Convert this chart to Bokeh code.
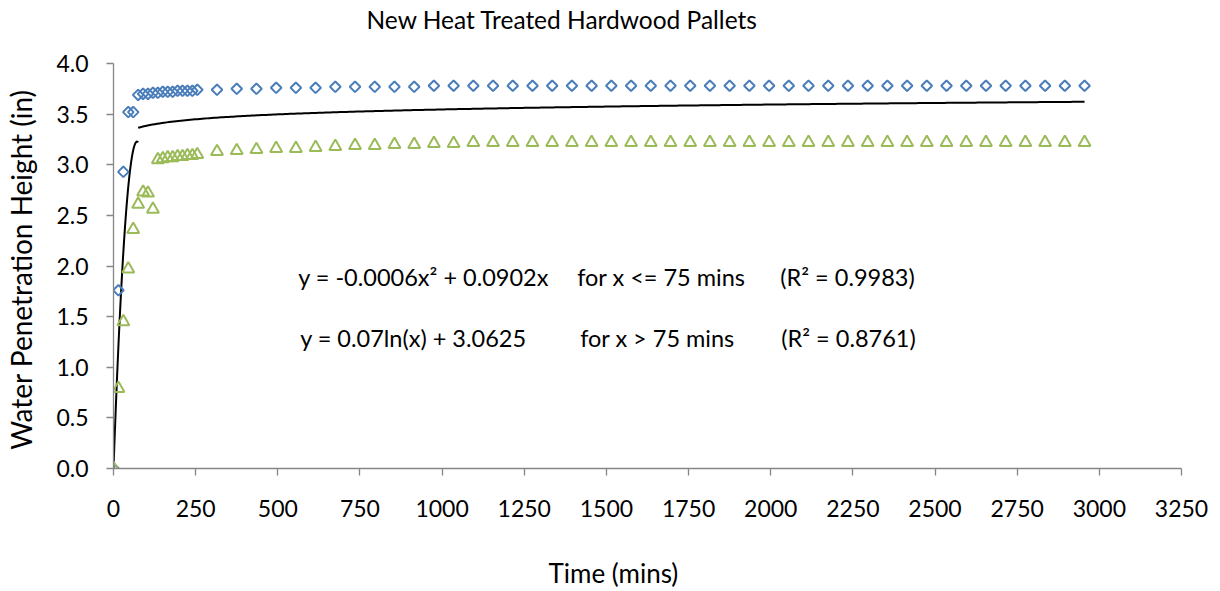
import numpy as np
from bokeh.plotting import figure
from bokeh.models import Range1d, Label, Title, SingleIntervalTicker, PrintfTickFormatter
from bokeh.embed import file_html
from bokeh.resources import INLINE

# ---- data ----
time_early = [0, 15, 30, 45, 60, 75, 90, 105, 120, 135, 150, 165, 180, 195, 210, 225, 240, 255]
time_hourly = [315, 375, 435, 495, 555, 615, 675, 735, 795, 855, 915, 975, 1035, 1095, 1155,
               1215, 1275, 1335, 1395, 1455, 1515, 1575, 1635, 1695, 1755, 1815, 1875, 1935,
               1995, 2055, 2115, 2175, 2235, 2295, 2355, 2415, 2475, 2535, 2595, 2655, 2715,
               2775, 2835, 2895, 2955]

blue_early = [0.00, 1.76, 2.93, 3.52, 3.52, 3.69, 3.70, 3.70, 3.71, 3.71, 3.72, 3.72,
              3.72, 3.73, 3.73, 3.73, 3.73, 3.74]
blue_hourly = [3.74, 3.75, 3.75, 3.76, 3.76, 3.76, 3.77, 3.77, 3.77, 3.77, 3.77,
               3.78, 3.78, 3.78, 3.78, 3.78, 3.78, 3.78, 3.78, 3.78, 3.78, 3.78, 3.78,
               3.78, 3.78, 3.78, 3.78, 3.78, 3.78, 3.78, 3.78, 3.78, 3.78, 3.78, 3.78,
               3.78, 3.78, 3.78, 3.78, 3.78, 3.78, 3.78, 3.78, 3.78, 3.78]

green_early = [0.00, 0.79, 1.45, 1.97, 2.36, 2.61, 2.73, 2.72, 2.56, 3.05, 3.06, 3.07,
               3.07, 3.08, 3.08, 3.09, 3.09, 3.10]
green_hourly = [3.13, 3.14, 3.15, 3.16, 3.16, 3.17, 3.18, 3.19, 3.19, 3.20, 3.20, 3.21,
                3.21, 3.22, 3.22, 3.22, 3.22, 3.22, 3.22, 3.22, 3.22, 3.22, 3.22, 3.22,
                3.22, 3.22, 3.22, 3.22, 3.22, 3.22, 3.22, 3.22, 3.22, 3.22, 3.22, 3.22,
                3.22, 3.22, 3.22, 3.22, 3.22, 3.22, 3.22, 3.22, 3.22]

# trend-line coefficients (quadratic shown rounded as -0.0006 on the chart)
quad_a, quad_b = -0.00063, 0.0902
log_a, log_b = 0.07, 3.0625
split_x = 75
end_x = 2955

title_text = "New Heat Treated Hardwood Pallets"
x_label_text = "Time  (mins)"
y_label_text = "Water Penetration Height  (in)"
eq_line1 = ["y = -0.0006x\u00b2 + 0.0902x", "for x <= 75 mins", "(R\u00b2 = 0.9983)"]
eq_line2 = ["y = 0.07ln(x) + 3.0625", "for x > 75 mins", "(R\u00b2 = 0.8761)"]

FONT = "Lato"
BLUE = "#4A7EBB"
GREEN = "#9BBB59"
AXIS = "#868686"

times = time_early + time_hourly
blue = blue_early + blue_hourly
green = green_early + green_hourly

p = figure(width=1210, height=591, output_backend="svg", toolbar_location=None,
           x_range=Range1d(0, 3250), y_range=Range1d(0, 4.0),
           min_border_left=113, min_border_right=29, min_border_top=63, min_border_bottom=123)
p.outline_line_color = None
p.xgrid.visible = False
p.ygrid.visible = False
p.background_fill_color = "white"

# trend lines
xq = np.linspace(0, split_x, 60)
p.line(xq, quad_a * xq ** 2 + quad_b * xq, line_color="black", line_width=2)
xl = np.linspace(split_x, end_x, 400)
p.line(xl, log_a * np.log(xl) + log_b, line_color="black", line_width=2)

# series markers
p.scatter(times, blue, marker="square", size=7.5, angle=np.pi / 4,
          fill_color=None, line_color=BLUE, line_width=2)
p.scatter(times, green, marker="triangle", size=12,
          fill_color=None, line_color=GREEN, line_width=2)

# axes
for ax in (p.xaxis[0], p.yaxis[0]):
    ax.axis_line_color = AXIS
    ax.axis_line_width = 1.3
    ax.major_tick_line_color = AXIS
    ax.major_tick_line_width = 1.3
    ax.major_tick_out = 7
    ax.major_tick_in = 0
    ax.minor_tick_line_color = None
    ax.major_label_text_font = FONT
    ax.major_label_text_font_size = "23px"
    ax.major_label_text_color = "black"
    ax.axis_label_text_font = FONT
    ax.axis_label_text_font_style = "normal"
    ax.axis_label_text_color = "black"
    ax.axis_label_text_font_size = "28px"

p.xaxis.ticker = SingleIntervalTicker(interval=250)
p.yaxis.ticker = SingleIntervalTicker(interval=0.5)
p.yaxis.formatter = PrintfTickFormatter(format="%.1f")
p.xaxis.major_label_standoff = 24
p.yaxis.major_label_standoff = 18
p.yaxis.axis_label = y_label_text
p.yaxis.axis_label_standoff = 15

# chart title (a blank spacer panel sits between it and the plot frame)
p.add_layout(Title(text=" ", text_font_size="10px", standoff=17), "above")
p.add_layout(Title(text=title_text, align="left", offset=253, standoff=0,
                   text_font=FONT, text_font_size="24.5px", text_font_style="normal",
                   text_color="black"), "above")

# x-axis title (blank spacer between the axis and the title)
p.add_layout(Title(text=" ", text_font_size="10px", standoff=22), "below")
p.add_layout(Title(text=x_label_text, align="left", offset=435, standoff=0,
                   text_font=FONT, text_font_size="26px", text_font_style="normal",
                   text_color="black"), "below")

# equation annotations
line1_x = [562, 1411, 2029]
line2_x = [568, 1420, 2032]
line1_y = 1.893
line2_y = 1.285
for txt, xx in zip(eq_line1, line1_x):
    p.add_layout(Label(x=xx, y=line1_y, text=txt, text_font=FONT, text_font_size="23.5px",
                       text_baseline="alphabetic", text_align="left", text_color="black"))
for txt, xx in zip(eq_line2, line2_x):
    p.add_layout(Label(x=xx, y=line2_y, text=txt, text_font=FONT, text_font_size="23.5px",
                       text_baseline="alphabetic", text_align="left", text_color="black"))

open("out.html", "w").write(file_html(p, INLINE))
